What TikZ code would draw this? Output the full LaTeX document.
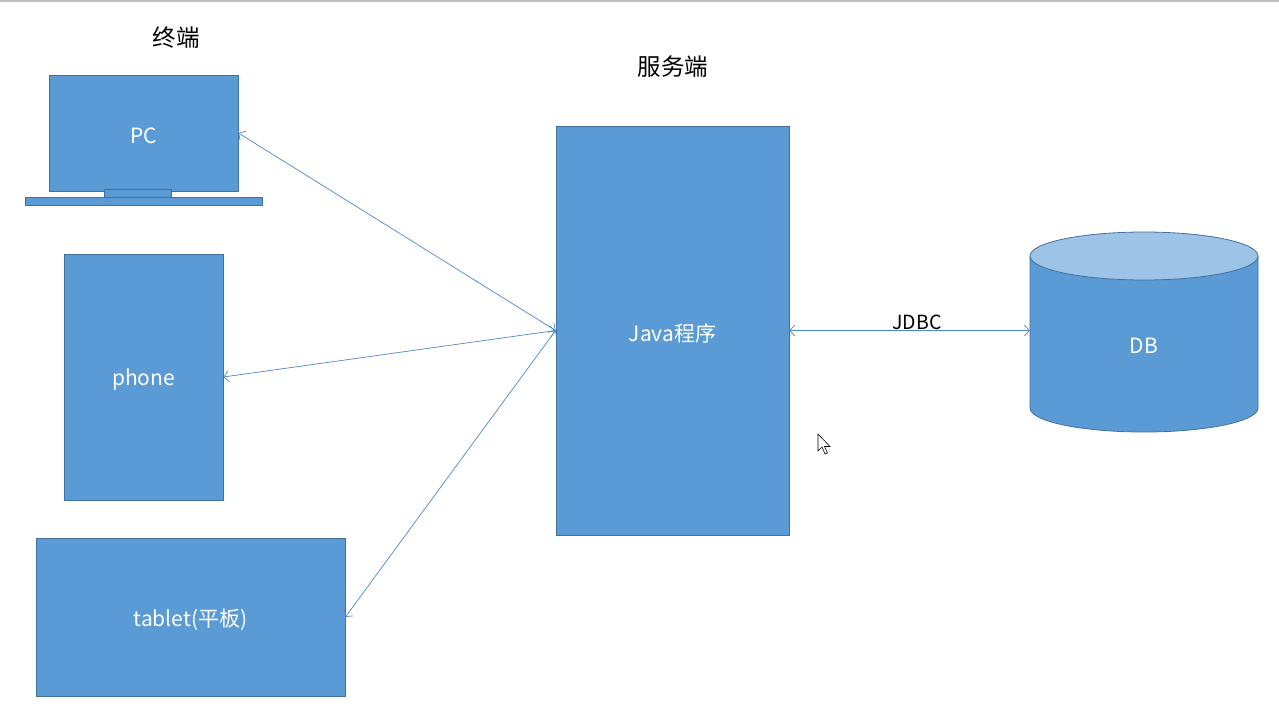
\documentclass[tikz,border=0pt]{standalone}
\usepackage{fontspec}
\setmainfont{Noto Sans CJK SC}
\usetikzlibrary{arrows.meta}
\definecolor{boxfill}{HTML}{5B9BD5}
\definecolor{boxedge}{HTML}{41719C}
\definecolor{toplight}{HTML}{9DC3E6}
\definecolor{linkc}{HTML}{4F88C6}
\newcommand{\lowered}[1]{\raisebox{-2.5pt}[\height][\depth]{#1}}
\begin{document}
\begin{tikzpicture}[x=1pt,y=-1pt,
  box/.style={draw=boxedge, fill=boxfill, line width=0.8pt, inner sep=0pt, text=white, font=\fontsize{21}{25}\selectfont},
  part/.style={draw=boxedge, fill=boxfill, line width=0.8pt},
  title/.style={font=\fontsize{23.5}{27}\selectfont, text=black, inner sep=0pt},
  link/.style={draw=linkc, line width=0.7pt, {Straight Barb[length=5pt,width=11pt]}-{Straight Barb[length=5pt,width=11pt]}}
]
\useasboundingbox[fill=white] (0,0) rectangle (1279,721);
\draw[black!25, line width=1.5pt] (0,0.75) -- (1279,0.75);

% titles
\node[title] (t1) at (176,38) {终端};
\node[title] (t2) at (673,67) {服务端};

% PC laptop
\node[box, minimum width=189pt, minimum height=116pt] (pc) at (143.5,133) {\lowered{PC}};
\draw[part] (104,189) rectangle (171,197);
\draw[part] (25,197) rectangle (262,205);

% phone
\node[box, minimum width=159pt, minimum height=246pt] (phone) at (143.5,377) {\lowered{phone}};

% tablet
\node[box, minimum width=309pt, minimum height=158pt] (tablet) at (190.5,617) {\lowered{tablet(平板)}};

% Java server
\node[box, minimum width=233pt, minimum height=409pt] (java) at (672.5,330.5) {\lowered{Java程序}};

% DB cylinder
\fill[boxfill] (1030,256) -- (1030,408) arc[start angle=180, end angle=0, x radius=114, y radius=24] -- (1258,256) -- cycle;
\draw[boxedge, line width=0.8pt] (1030,256) -- (1030,408) arc[start angle=180, end angle=0, x radius=114, y radius=24] -- (1258,256);
\draw[boxedge, fill=toplight, line width=0.8pt] (1144,256) ellipse[x radius=114, y radius=24];
\node[minimum width=228pt, minimum height=200pt, inner sep=0pt] (db) at (1144,332) {};
\node[text=white, font=\fontsize{21}{25}\selectfont, inner sep=0pt] (dbl) at (1144,346) {DB};

% connectors
\draw[link] (pc.east) -- (java.west);
\draw[link] (phone.east) -- (java.west);
\draw[link] (tablet.east) -- (java.west);
\draw[link] (java.east) -- (java.east -| db.west);
\node[font=\fontsize{19.5}{23}\selectfont, inner sep=0pt] (jdbc) at (917,322) {JDBC};

% mouse cursor
\draw[black, fill=white, line width=0.6pt, line join=miter]
  (818,434) -- (818,451) -- (822,447) -- (825,454) -- (827.5,453) -- (824.5,446.5) -- (830,446.5) -- cycle;
\end{tikzpicture}
\end{document}
